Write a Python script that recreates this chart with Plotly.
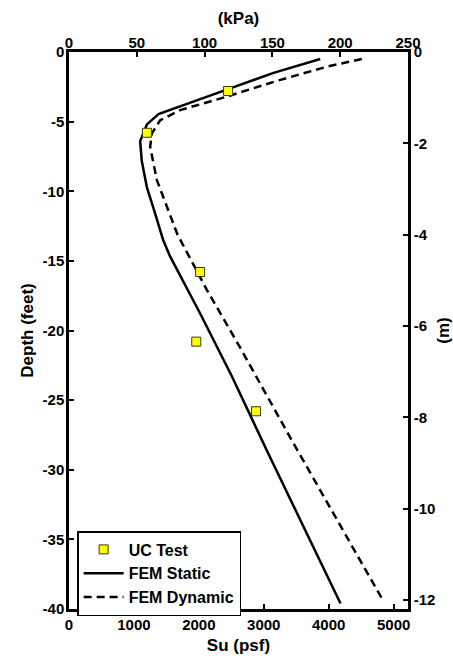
import plotly.graph_objects as go

# UC Test data
uc_depth = [-2.8, -5.8, -15.8, -20.8, -25.8]
uc_su = [2450, 1200, 2020, 1960, 2880]

# FEM Static
st_depth = [-0.5, -1.5, -2.7, -3.7, -4.45, -5.2, -6.4, -7.8, -9.7, -11.6, -13.5, -14.7, -18.8, -23.3, -28.6, -39.6]
st_su = [3870, 3150, 2430, 1816, 1378, 1200, 1096, 1120, 1199, 1327, 1450, 1559, 2022, 2510, 3045, 4182]

# FEM Dynamic
dy_depth = [-0.5, -1.05, -2.0, -3.2, -4.17, -4.9, -5.85, -6.8, -9.2, -11.1, -13.1, -17.1, -21.2, -28.0, -39.5]
dy_su = [4510, 3977, 3256, 2433, 1713, 1404, 1276, 1250, 1353, 1507, 1670, 2125, 2632, 3445, 4850]

# axis settings
kpa_ticks = [0, 50, 100, 150, 200, 250]
psf_ticks = [0, 1000, 2000, 3000, 4000, 5000]
ft_ticks = [0, -5, -10, -15, -20, -25, -30, -35, -40]
m_ticks = [0, -2, -4, -6, -8, -10, -12]
PSF_PER_KPA = 20.885
M_PER_FT = 0.3048
kpa_max = 250
ft_min = -40

FONT = "Liberation Sans, Arial, sans-serif"

fig = go.Figure()
fig.add_trace(go.Scatter(x=st_su, y=st_depth, mode="lines", name="FEM Static", legendrank=2,
                         line=dict(color="black", width=2.5)))
fig.add_trace(go.Scatter(x=dy_su, y=dy_depth, mode="lines", name="FEM Dynamic", legendrank=3,
                         line=dict(color="black", width=2.5, dash="8px,5px")))
fig.add_trace(go.Scatter(x=uc_su, y=uc_depth, mode="markers", name="UC Test", legendrank=1,
                         marker=dict(symbol="square", size=9, color="#FFFF00",
                                     line=dict(color="#3a3a00", width=1))))
# helper (invisible) trace to activate secondary axes
fig.add_trace(go.Scatter(x=[0, kpa_max], y=[0, ft_min * M_PER_FT], mode="markers",
                         marker=dict(opacity=0), showlegend=False, hoverinfo="skip",
                         xaxis="x2", yaxis="y2"))

tickfont = dict(family=FONT, size=15, color="black", weight="bold")
titlefont = dict(family=FONT, size=17, color="black", weight="bold")
common = dict(showgrid=False, zeroline=False, showline=True, linecolor="black", linewidth=2.5,
              ticks="inside", ticklen=5, tickwidth=2, tickcolor="black", tickfont=tickfont,
              automargin=False)

fig.update_layout(
    width=453, height=656,
    margin=dict(l=69, r=45, t=52, b=47),
    paper_bgcolor="white", plot_bgcolor="white",
    showlegend=True,
    legend=dict(x=0.024, y=0.14, xanchor="left", yanchor="top",
                bgcolor="white", bordercolor="black", borderwidth=1.5,
                font=dict(family=FONT, size=16, color="black", weight="bold"),
                traceorder="normal", itemwidth=40,
                entrywidth=140, entrywidthmode="pixels"),
    xaxis=dict(range=[0, kpa_max * PSF_PER_KPA], tickvals=psf_ticks,
               ticktext=[str(v) for v in psf_ticks],
               title=dict(text="Su (psf)", font=titlefont, standoff=8), **common),
    yaxis=dict(range=[ft_min, 0], tickvals=ft_ticks,
               ticktext=[str(v) for v in ft_ticks], ticklabelstandoff=-1,
               title=dict(text="Depth (feet)", font=titlefont, standoff=5), **common),
    xaxis2=dict(range=[0, kpa_max], tickvals=kpa_ticks, overlaying="x", side="top",
                ticktext=[str(v) for v in kpa_ticks], ticklabelstandoff=-5,
                anchor="y", title=dict(text="(kPa)", font=titlefont, standoff=6), **common),
    yaxis2=dict(range=[ft_min * M_PER_FT, 0], tickvals=m_ticks, overlaying="y", side="right",
                ticktext=[str(v) for v in m_ticks],
                anchor="x", title=dict(text="(m)", font=titlefont, standoff=4), **common),
)

fig.write_html("out.html")
